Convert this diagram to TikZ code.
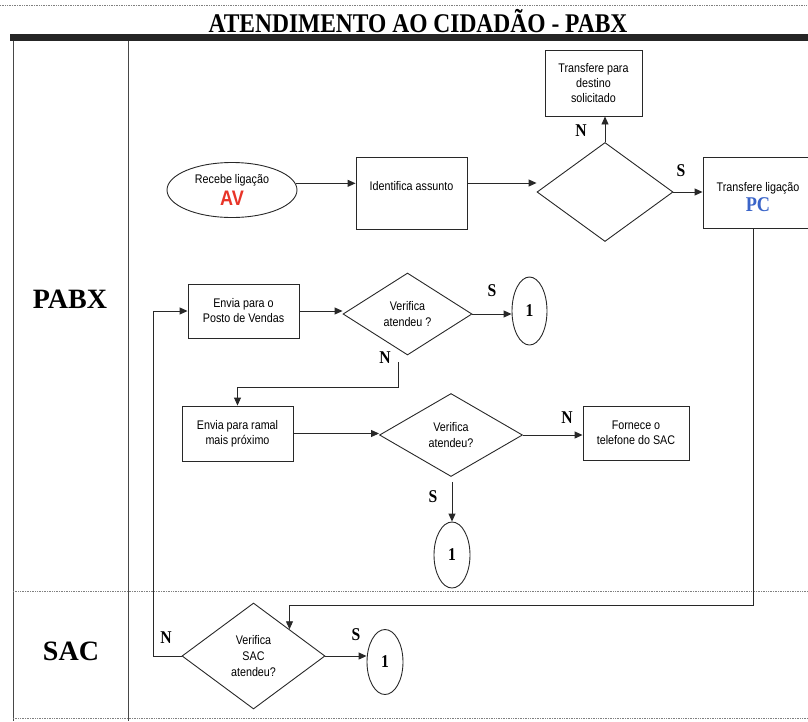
\documentclass[tikz,border=0pt]{standalone}
\usepackage{fontspec}
\setmainfont{Liberation Serif}
\newfontfamily\boxfont{Liberation Sans}[FakeStretch=0.86]
\newfontfamily\cserif{Liberation Serif}[FakeStretch=0.87]
\usetikzlibrary{shapes.geometric,arrows.meta}
\definecolor{avred}{RGB}{232,52,40}
\definecolor{pcblue}{RGB}{58,100,200}
\definecolor{ink}{RGB}{40,40,40}
\begin{document}
\begin{tikzpicture}[x=1pt,y=-1pt,
  box/.style={draw=ink, line width=0.9pt, rectangle, inner sep=1pt, align=center, font=\boxfont\fontsize{12.5}{15}\selectfont},
  dec/.style={draw=ink, line width=0.9pt, diamond, inner sep=0pt, align=center, font=\boxfont\fontsize{12.5}{16}\selectfont},
  term/.style={draw=ink, line width=0.9pt, ellipse, inner sep=0pt, align=center},
  conn/.style={term, font=\cserif\bfseries\fontsize{18}{18}\selectfont},
  arr/.style={draw=ink, line width=0.9pt, -{Triangle[length=8pt,width=7pt]}},
  yn/.style={font=\cserif\bfseries\fontsize{18}{18}\selectfont, inner sep=0pt},
  lane/.style={font=\bfseries\fontsize{28}{28}\selectfont, inner sep=0pt}]
\useasboundingbox (0,0) rectangle (808,721);

% frame
\draw[gray, densely dotted, line width=0.7pt] (0,5) -- (808,5);
\fill[black!85] (10,34) rectangle (808,41);
\draw[ink!85, line width=0.8pt] (13,41) -- (13,721);
\draw[ink!85, line width=0.8pt] (128,41) -- (128,721);
\draw[gray, densely dotted, line width=0.7pt] (13,591) -- (808,591);
\draw[gray, densely dotted, line width=0.7pt] (13,718) -- (808,718);

\node[font=\cserif\bfseries\fontsize{27}{27}\selectfont, inner sep=0pt] (title) at (418,21) {ATENDIMENTO AO CIDADÃO - PABX};
\node[lane] (pabx) at (70,299) {PABX};
\node[lane] (sac) at (71,651) {SAC};

% nodes
\node[term, minimum width=130, minimum height=55, font=\boxfont\fontsize{12.5}{15}\selectfont] (recebe) at (232,190)
  {Recebe ligação\\[3pt]{\bfseries\fontsize{21}{21}\selectfont\color{avred}AV}};
\node[box, minimum width=111, minimum height=72] (ident) at (411.5,193) {Identifica assunto\\ \mbox{}};
\node[dec, minimum width=136, minimum height=99] (dec1) at (605,192) {};
\node[box, minimum width=97, minimum height=66] (dest) at (593.5,83) {Transfere para\\destino\\solicitado};
\node[box, minimum width=127, minimum height=71] (pc) at (766.5,192.5) {};
\node[inner sep=0pt, align=center, font=\boxfont\fontsize{12.5}{15}\selectfont] (pctext) at (758,197)
  {Transfere ligação\\[2pt]{\cserif\bfseries\fontsize{21}{21}\selectfont\color{pcblue}PC}};

\node[box, minimum width=111, minimum height=54] (posto) at (243.5,311) {Envia para o\\Posto de Vendas};
\node[dec, minimum width=129, minimum height=82] (dec2) at (407.5,314) {Verifica\\atendeu ?};
\node[conn, minimum width=35, minimum height=68] (c1) at (529.5,311) {1};

\node[box, minimum width=111, minimum height=55] (ramal) at (237.5,433.5) {Envia para ramal\\mais próximo};
\node[dec, minimum width=143, minimum height=83] (dec3) at (451,435) {Verifica\\atendeu?};
\node[box, minimum width=106, minimum height=54] (fornece) at (636,433) {Fornece o\\telefone do SAC};
\node[conn, minimum width=36, minimum height=66] (c2) at (452,555) {1};

\node[dec, minimum width=143, minimum height=106] (dec4) at (253.5,656) {Verifica\\SAC\\atendeu?};
\node[conn, minimum width=36, minimum height=65] (c3) at (385,662) {1};

% connectors
\draw[arr] (recebe.6) -- (recebe.6 -| ident.west);
\draw[arr] ([yshift=10pt]ident.east) -- ([yshift=9pt]dec1.west);
\draw[arr] (dec1.north) -- (dec1.north |- dest.south);
\node[yn] (n1) at (581,131) {N};
\draw[arr] (dec1.east) -- (dec1.east -| pc.west);
\node[yn] (s1) at (681,171) {S};

\coordinate (turn) at (dec4.north east |- 0,605);
\draw[arr] ([xshift=-5pt]pctext.center |- pc.south) |- (turn) -- (dec4.north east);

\draw[arr] (posto.east) -- (posto.east -| dec2.west);
\draw[arr] (dec2.east) -- (dec2.east -| c1.west);
\node[yn] (s2) at (492,291) {S};
\draw[arr] ([xshift=-9pt,yshift=-7pt]dec2.south) -- ++(0,25) -| (ramal.north);
\node[yn] (n2) at (385,358) {N};

\draw[arr] (ramal.east) -- (ramal.east -| dec3.west);
\draw[arr] (dec3.east) -- (dec3.east -| fornece.west);
\node[yn] (n3) at (567,418) {N};
\draw[arr] ([yshift=-5pt]c2.north |- dec3.south) -- (c2.north);
\node[yn] (s3) at (433,497) {S};

\draw[arr] (dec4.east) -- (dec4.east -| c3.west);
\node[yn] (s4) at (356,635) {S};
\draw[arr] (dec4.west) -- ++(-28,0) |- (posto.west);
\node[yn] (n4) at (166,638) {N};
\end{tikzpicture}
\end{document}
